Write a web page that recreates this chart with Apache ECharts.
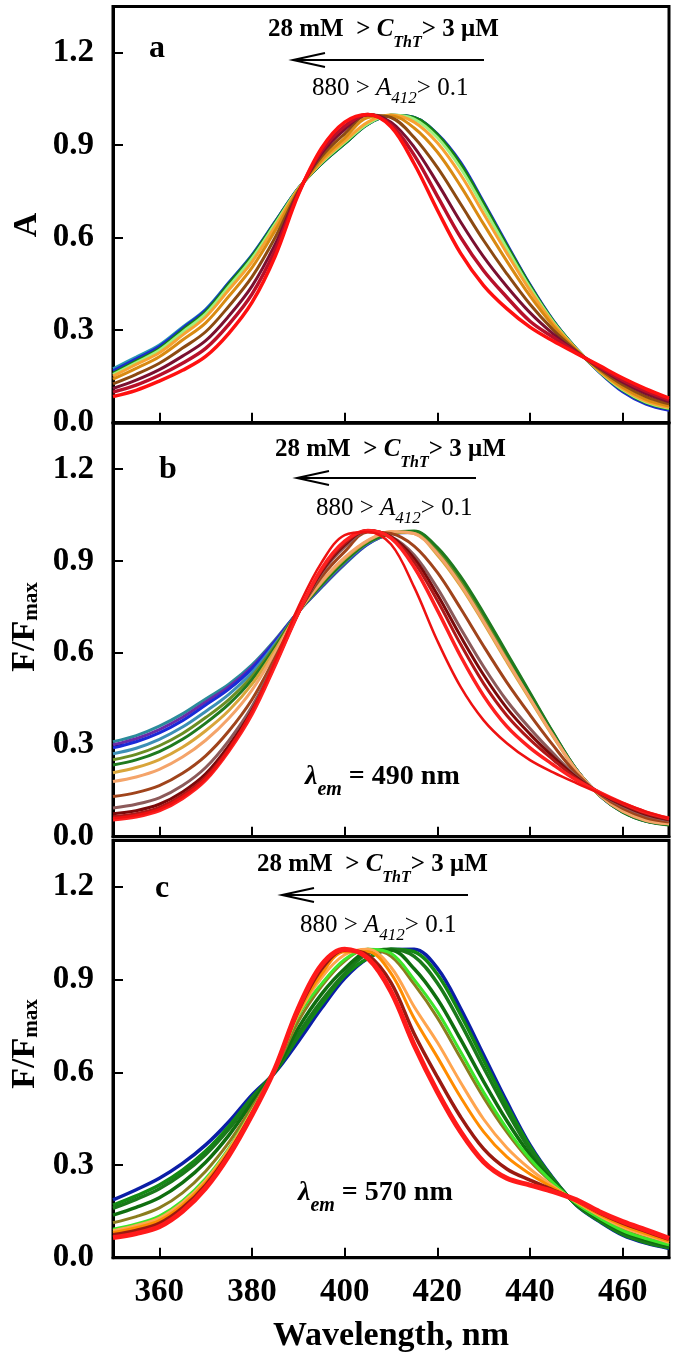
<!DOCTYPE html>
<html>
<head>
<meta charset="utf-8">
<script src="https://cdn.jsdelivr.net/npm/echarts@6/dist/echarts.min.js"></script>
<style>
html,body{margin:0;padding:0;background:#fff;}
#chart{width:675px;height:1357px;}
</style>
</head>
<body>
<div id="chart"></div>
<script>
// ---------- data ----------
const WL = [350,355,360,365,370,375,380,385,390,395,400,405,410,415,420,425,430,435,440,445,450,455,460,465,470];
const X_TICKS = [360,380,400,420,440,460];
const Y_TICKS = [0,0.3,0.6,0.9,1.2];

// panel a (absorbance)
const a_teal    = [0.175,0.213,0.252,0.31,0.368,0.455,0.544,0.652,0.76,0.84,0.905,0.968,0.997,0.99,0.935,0.84,0.71,0.575,0.445,0.33,0.24,0.165,0.105,0.065,0.045];
const a_blue    = [0.168,0.207,0.247,0.306,0.365,0.454,0.543,0.652,0.761,0.84,0.905,0.968,0.997,0.99,0.937,0.845,0.715,0.58,0.448,0.332,0.24,0.163,0.1,0.06,0.04];
const a_green   = [0.16,0.2,0.24,0.3,0.36,0.45,0.54,0.65,0.76,0.84,0.905,0.968,0.997,0.99,0.935,0.84,0.71,0.575,0.445,0.33,0.24,0.165,0.105,0.065,0.045];
const a_lgreen  = [0.156,0.195,0.235,0.294,0.353,0.442,0.533,0.645,0.759,0.843,0.909,0.97,0.998,0.985,0.925,0.826,0.697,0.565,0.438,0.327,0.239,0.166,0.107,0.067,0.047];
const a_orange  = [0.151,0.189,0.227,0.284,0.343,0.431,0.522,0.637,0.758,0.846,0.913,0.975,0.998,0.975,0.908,0.805,0.678,0.55,0.429,0.322,0.238,0.167,0.11,0.07,0.049];
const a_dorange = [0.141,0.176,0.214,0.268,0.324,0.41,0.503,0.623,0.755,0.853,0.923,0.99,0.995,0.956,0.878,0.768,0.644,0.524,0.411,0.314,0.236,0.17,0.115,0.076,0.054];
const a_brown   = [0.126,0.157,0.193,0.242,0.295,0.378,0.473,0.601,0.751,0.863,0.937,0.998,0.99,0.925,0.828,0.71,0.591,0.483,0.384,0.301,0.233,0.174,0.123,0.085,0.061];
const a_maroon  = [0.111,0.138,0.172,0.216,0.266,0.346,0.443,0.579,0.747,0.873,0.951,1.0,0.975,0.894,0.778,0.652,0.538,0.442,0.357,0.288,0.23,0.178,0.131,0.094,0.068];
const a_crimson = [0.099,0.122,0.154,0.193,0.241,0.319,0.417,0.56,0.744,0.881,0.962,1.0,0.966,0.868,0.735,0.602,0.493,0.407,0.329,0.277,0.228,0.181,0.138,0.102,0.074];
const a_red     = [0.085,0.105,0.135,0.17,0.215,0.29,0.39,0.54,0.74,0.89,0.975,1.0,0.96,0.84,0.69,0.55,0.445,0.37,0.31,0.265,0.225,0.185,0.145,0.11,0.08];

// panel b (F/Fmax, λem = 490 nm)
const b_teal   = [0.31,0.33,0.361,0.401,0.45,0.498,0.561,0.643,0.735,0.814,0.889,0.955,0.99,0.997,0.941,0.845,0.725,0.595,0.466,0.338,0.219,0.135,0.081,0.051,0.04];
const b_purple = [0.30,0.32,0.35,0.39,0.44,0.49,0.555,0.64,0.735,0.816,0.892,0.956,0.989,0.995,0.937,0.84,0.719,0.59,0.463,0.336,0.219,0.135,0.081,0.051,0.041];
const b_blue   = [0.29,0.31,0.339,0.379,0.43,0.482,0.549,0.637,0.735,0.818,0.894,0.957,0.989,0.993,0.933,0.834,0.714,0.586,0.459,0.334,0.218,0.136,0.082,0.052,0.041];
const b_steel  = [0.271,0.289,0.318,0.358,0.409,0.465,0.536,0.63,0.734,0.82,0.896,0.958,0.99,0.996,0.939,0.842,0.722,0.593,0.465,0.337,0.219,0.135,0.081,0.051,0.041];
const b_olive  = [0.251,0.269,0.297,0.337,0.389,0.448,0.524,0.624,0.734,0.823,0.899,0.961,0.989,0.995,0.935,0.837,0.717,0.588,0.461,0.335,0.218,0.136,0.082,0.052,0.041];
const b_green  = [0.234,0.251,0.278,0.318,0.371,0.433,0.513,0.618,0.734,0.823,0.90,0.961,0.99,0.998,0.945,0.85,0.73,0.60,0.47,0.34,0.22,0.135,0.08,0.05,0.038];
const b_gold   = [0.209,0.226,0.252,0.292,0.346,0.412,0.498,0.61,0.733,0.83,0.908,0.966,0.995,0.99,0.92,0.819,0.698,0.571,0.448,0.327,0.216,0.136,0.084,0.054,0.042];
const b_sandy  = [0.18,0.195,0.22,0.26,0.315,0.387,0.479,0.601,0.733,0.833,0.912,0.968,0.997,0.99,0.925,0.824,0.703,0.576,0.452,0.33,0.217,0.136,0.083,0.053,0.042];
const b_sienna = [0.131,0.144,0.167,0.207,0.264,0.345,0.448,0.585,0.732,0.848,0.931,0.995,0.99,0.949,0.863,0.746,0.622,0.504,0.398,0.298,0.206,0.139,0.092,0.062,0.048];
const b_rosy   = [0.094,0.106,0.127,0.167,0.226,0.314,0.425,0.573,0.731,0.86,0.946,0.998,0.98,0.92,0.812,0.681,0.555,0.444,0.353,0.272,0.197,0.142,0.1,0.07,0.053];
const b_maroon = [0.075,0.085,0.106,0.146,0.205,0.297,0.412,0.566,0.73,0.865,0.953,1.0,0.979,0.909,0.791,0.655,0.528,0.42,0.335,0.261,0.194,0.143,0.103,0.073,0.055];
const b_dred   = [0.065,0.075,0.096,0.136,0.195,0.288,0.406,0.563,0.73,0.869,0.958,1.0,0.977,0.897,0.771,0.629,0.50,0.396,0.317,0.251,0.19,0.144,0.106,0.076,0.057];
const b_red    = [0.055,0.065,0.085,0.125,0.185,0.28,0.40,0.56,0.73,0.875,0.965,1.0,0.975,0.88,0.74,0.59,0.46,0.36,0.29,0.235,0.185,0.145,0.11,0.08,0.06];
const b_red2   = [0.06,0.07,0.09,0.13,0.19,0.285,0.41,0.575,0.75,0.895,0.985,0.995,0.955,0.815,0.64,0.49,0.38,0.305,0.25,0.21,0.175,0.142,0.11,0.082,0.06];

// panel c (F/Fmax, λem = 570 nm)
const c_blue    = [0.187,0.22,0.257,0.305,0.365,0.44,0.527,0.60,0.70,0.807,0.904,0.969,0.997,0.998,0.937,0.807,0.656,0.505,0.365,0.257,0.17,0.117,0.073,0.047,0.03];
const c_green1  = [0.17,0.2,0.235,0.283,0.345,0.425,0.518,0.602,0.715,0.82,0.913,0.969,0.998,0.99,0.917,0.787,0.639,0.493,0.359,0.255,0.171,0.119,0.075,0.049,0.032];
const c_green2  = [0.16,0.189,0.223,0.271,0.334,0.416,0.513,0.603,0.724,0.831,0.92,0.985,0.998,0.975,0.889,0.759,0.615,0.475,0.349,0.252,0.172,0.121,0.078,0.052,0.034];
const c_green3  = [0.138,0.163,0.194,0.243,0.309,0.396,0.501,0.605,0.743,0.853,0.935,0.99,0.995,0.935,0.837,0.707,0.57,0.443,0.333,0.246,0.174,0.125,0.084,0.058,0.038];
const c_olive   = [0.113,0.133,0.161,0.21,0.28,0.373,0.487,0.608,0.765,0.878,0.96,0.998,0.975,0.885,0.777,0.647,0.518,0.406,0.313,0.24,0.177,0.13,0.091,0.064,0.043];
const c_lgreen  = [0.092,0.109,0.135,0.184,0.256,0.354,0.476,0.61,0.784,0.886,0.965,0.998,0.985,0.90,0.797,0.667,0.535,0.418,0.32,0.242,0.176,0.128,0.088,0.062,0.042];
const c_lorange = [0.087,0.104,0.128,0.178,0.25,0.35,0.474,0.611,0.788,0.906,0.98,0.998,0.94,0.812,0.697,0.568,0.448,0.356,0.287,0.231,0.18,0.136,0.099,0.073,0.05];
const c_orange  = [0.081,0.097,0.12,0.17,0.243,0.344,0.47,0.611,0.793,0.918,0.99,0.99,0.92,0.775,0.649,0.52,0.407,0.326,0.271,0.226,0.182,0.14,0.105,0.078,0.054];
const c_dred    = [0.074,0.088,0.111,0.161,0.235,0.338,0.467,0.612,0.80,0.934,0.995,0.98,0.89,0.725,0.585,0.456,0.352,0.287,0.251,0.219,0.185,0.145,0.112,0.085,0.059];
const c_red     = [0.065,0.078,0.10,0.15,0.225,0.33,0.462,0.613,0.807,0.947,0.998,0.969,0.861,0.688,0.537,0.408,0.31,0.257,0.235,0.214,0.187,0.149,0.117,0.09,0.063];

// ---------- styling ----------
const SERIF = "'Liberation Serif','Times New Roman',serif";
const panels = [
  [ // a
    [a_teal,'#2a9ab4',3],[a_blue,'#1a2ad0',3],[a_green,'#138013',3],[a_lgreen,'#9cf07e',3],
    [a_orange,'#f8a232',3],[a_dorange,'#d98a12',3],[a_brown,'#8c4a12',3],[a_maroon,'#7a1030',3],
    [a_crimson,'#b8102a',3.5],[a_red,'#ff1010',3.5]
  ],
  [ // b
    [b_teal,'#2b8c9c',3],[b_purple,'#6a2aa8',3],[b_blue,'#1a2ad8',3],[b_steel,'#3c8fb5',3],
    [b_olive,'#6b8e23',3],[b_green,'#1f7a1f',3],[b_gold,'#d8a53a',3],[b_sandy,'#f4a46a',3],
    [b_sienna,'#a0441c',3],[b_rosy,'#8c5a5a',3],[b_maroon,'#7a0a0a',3],[b_dred,'#b01818',3],
    [b_red,'#ff2020',3.5],[b_red2,'#ee1111',2.5]
  ],
  [ // c
    [c_blue,'#0b1ea6',3.5],[c_green1,'#138a13',3.5],[c_green2,'#1a7a1a',3.5],[c_green3,'#0f6e0f',3.5],
    [c_olive,'#8b7d1e',3],[c_lgreen,'#3ee62a',3],[c_lorange,'#ffa54f',3],[c_orange,'#ff8c00',3],
    [c_dred,'#9a1a10',3.5],[c_red,'#ff1a1a',5]
  ]
];

const grids = [
  {left:113, right:6, top:6.5, height:416.2},
  {left:113, right:6, top:423.3, height:413.4},
  {left:113, right:6, top:840.5, height:417.2}
].map(g => Object.assign(g, {show:true, borderColor:'#000', borderWidth:3, backgroundColor:'transparent'}));

const xAxes = [0,1,2].map(i => ({
  type:'value', gridIndex:i, min:350, max:470,
  axisLine:{show:true, onZero:false, lineStyle:{color:'#000', width:3}},
  axisTick:{show:true, inside:true, length:10, lineStyle:{color:'#000', width:2}, customValues:X_TICKS},
  axisLabel:{show:i===2, customValues:X_TICKS, margin:18, color:'#000', fontFamily:SERIF, fontWeight:'bold', fontSize:33},
  splitLine:{show:false},
  name: i===2 ? 'Wavelength, nm' : '',
  nameLocation:'middle', nameGap:62,
  nameTextStyle:{color:'#000', fontFamily:SERIF, fontWeight:'bold', fontSize:34}
}));

const yAxes = [0,1,2].map(i => ({
  type:'value', gridIndex:i, min:0, max:1.35,
  axisLine:{show:true, onZero:false, lineStyle:{color:'#000', width:3}},
  axisTick:{show:true, inside:true, length:10, lineStyle:{color:'#000', width:2}, customValues:Y_TICKS},
  axisLabel:{show:true, customValues:Y_TICKS, margin:19, color:'#000', fontFamily:SERIF, fontWeight:'bold', fontSize:33,
             formatter: v => Number(v).toFixed(1)},
  splitLine:{show:false}
}));

const series = [];
panels.forEach((list, gi) => {
  list.forEach(([vals, color, w]) => {
    series.push({
      type:'line', xAxisIndex:gi, yAxisIndex:gi, smooth:0.35, showSymbol:false, symbol:'none',
      lineStyle:{color:color, width:w}, itemStyle:{color:color},
      data: WL.map((x, k) => [x, vals[k]]), silent:true
    });
  });
});

// ---------- annotations ----------
// main tokens aligned to the line top, subscript tokens aligned to the line bottom (pushed down)
const hdrRich = {
  b:{fontFamily:SERIF, fontWeight:'bold', fontSize:25, lineHeight:25, verticalAlign:'top', fill:'#000'},
  i:{fontFamily:SERIF, fontWeight:'bold', fontStyle:'italic', fontSize:25, lineHeight:25, verticalAlign:'top', fill:'#000'},
  s:{fontFamily:SERIF, fontWeight:'bold', fontStyle:'italic', fontSize:16, lineHeight:33, verticalAlign:'bottom', fill:'#000'}
};
const absRich = {
  r:{fontFamily:SERIF, fontSize:25, lineHeight:25, verticalAlign:'top', fill:'#000'},
  i:{fontFamily:SERIF, fontStyle:'italic', fontSize:25, lineHeight:25, verticalAlign:'top', fill:'#000'},
  s:{fontFamily:SERIF, fontStyle:'italic', fontSize:17, lineHeight:32, verticalAlign:'bottom', fill:'#000'}
};
const lamRich = {
  l:{fontFamily:SERIF, fontWeight:'bold', fontStyle:'italic', fontSize:28, lineHeight:28, verticalAlign:'top', fill:'#000'},
  s:{fontFamily:SERIF, fontWeight:'bold', fontStyle:'italic', fontSize:20, lineHeight:37, verticalAlign:'bottom', fill:'#000'},
  b:{fontFamily:SERIF, fontWeight:'bold', fontSize:28, lineHeight:28, verticalAlign:'top', fill:'#000'}
};
function richText(x, y, text, rich) {
  return {type:'text', x:x, y:y, silent:true, z:100,
          style:{text:text, rich:rich, align:'left', verticalAlign:'top', fill:'#000'}};
}
function arrow(x1, x2, y) {
  return [
    {type:'line', silent:true, z:100, shape:{x1:x1, y1:y, x2:x2, y2:y}, style:{stroke:'#000', lineWidth:2}},
    {type:'polyline', silent:true, z:100, shape:{points:[[x1+32,y-7],[x1,y],[x1+32,y+7]]}, style:{stroke:'#000', lineWidth:2, fill:null}}
  ];
}
function letter(x, y, t) {
  return {type:'text', x:x, y:y, silent:true, z:100,
          style:{text:t, fontFamily:SERIF, fontWeight:'bold', fontSize:32, align:'center', verticalAlign:'middle', fill:'#000'}};
}
const yNameRich = {
  m:{fontFamily:SERIF, fontWeight:'bold', fontSize:34, lineHeight:34, verticalAlign:'top', fill:'#000'},
  s:{fontFamily:SERIF, fontWeight:'bold', fontSize:21, lineHeight:34, verticalAlign:'bottom', fill:'#000'}
};
const HDR = '{b|28 mM  > }{i|C}{s|ThT}{b|> 3 μM}';
const ABS = '{r|880 > }{i|A}{s|412}{r|> 0.1}';

const graphics = [
  // y axis names
  {type:'text', x:27, y:225, rotation:Math.PI/2, silent:true,
   style:{text:'A', fontFamily:SERIF, fontWeight:'bold', fontSize:34, align:'center', verticalAlign:'middle', fill:'#000'}},
  {type:'text', x:8, y:627, rotation:Math.PI/2, silent:true,
   style:{text:'{m|F/F}{s|max}', rich:yNameRich, align:'center', verticalAlign:'top', fill:'#000'}},
  {type:'text', x:8, y:1044, rotation:Math.PI/2, silent:true,
   style:{text:'{m|F/F}{s|max}', rich:yNameRich, align:'center', verticalAlign:'top', fill:'#000'}},
  // panel letters
  letter(157, 49, 'a'), letter(168, 470, 'b'), letter(162, 889, 'c'),
  // panel a
  richText(268, 17.5, HDR, hdrRich), ...arrow(293, 484, 60), richText(312, 75.5, ABS, absRich),
  // panel b
  richText(275, 437.5, HDR, hdrRich), ...arrow(297, 476, 478), richText(316, 495.5, ABS, absRich),
  richText(305, 763, '{l|λ}{s|em}{b| = 490 nm}', lamRich),
  // panel c
  richText(257, 852.5, HDR, hdrRich), ...arrow(282, 468, 895), richText(300, 912.5, ABS, absRich),
  richText(298, 1179, '{l|λ}{s|em}{b| = 570 nm}', lamRich)
];

const chart = echarts.init(document.getElementById('chart'), null, {renderer:'canvas'});
chart.setOption({
  animation:false,
  backgroundColor:'#fff',
  grid:grids,
  xAxis:xAxes,
  yAxis:yAxes,
  series:series,
  graphic:{elements:graphics}
});
</script>
</body>
</html>
